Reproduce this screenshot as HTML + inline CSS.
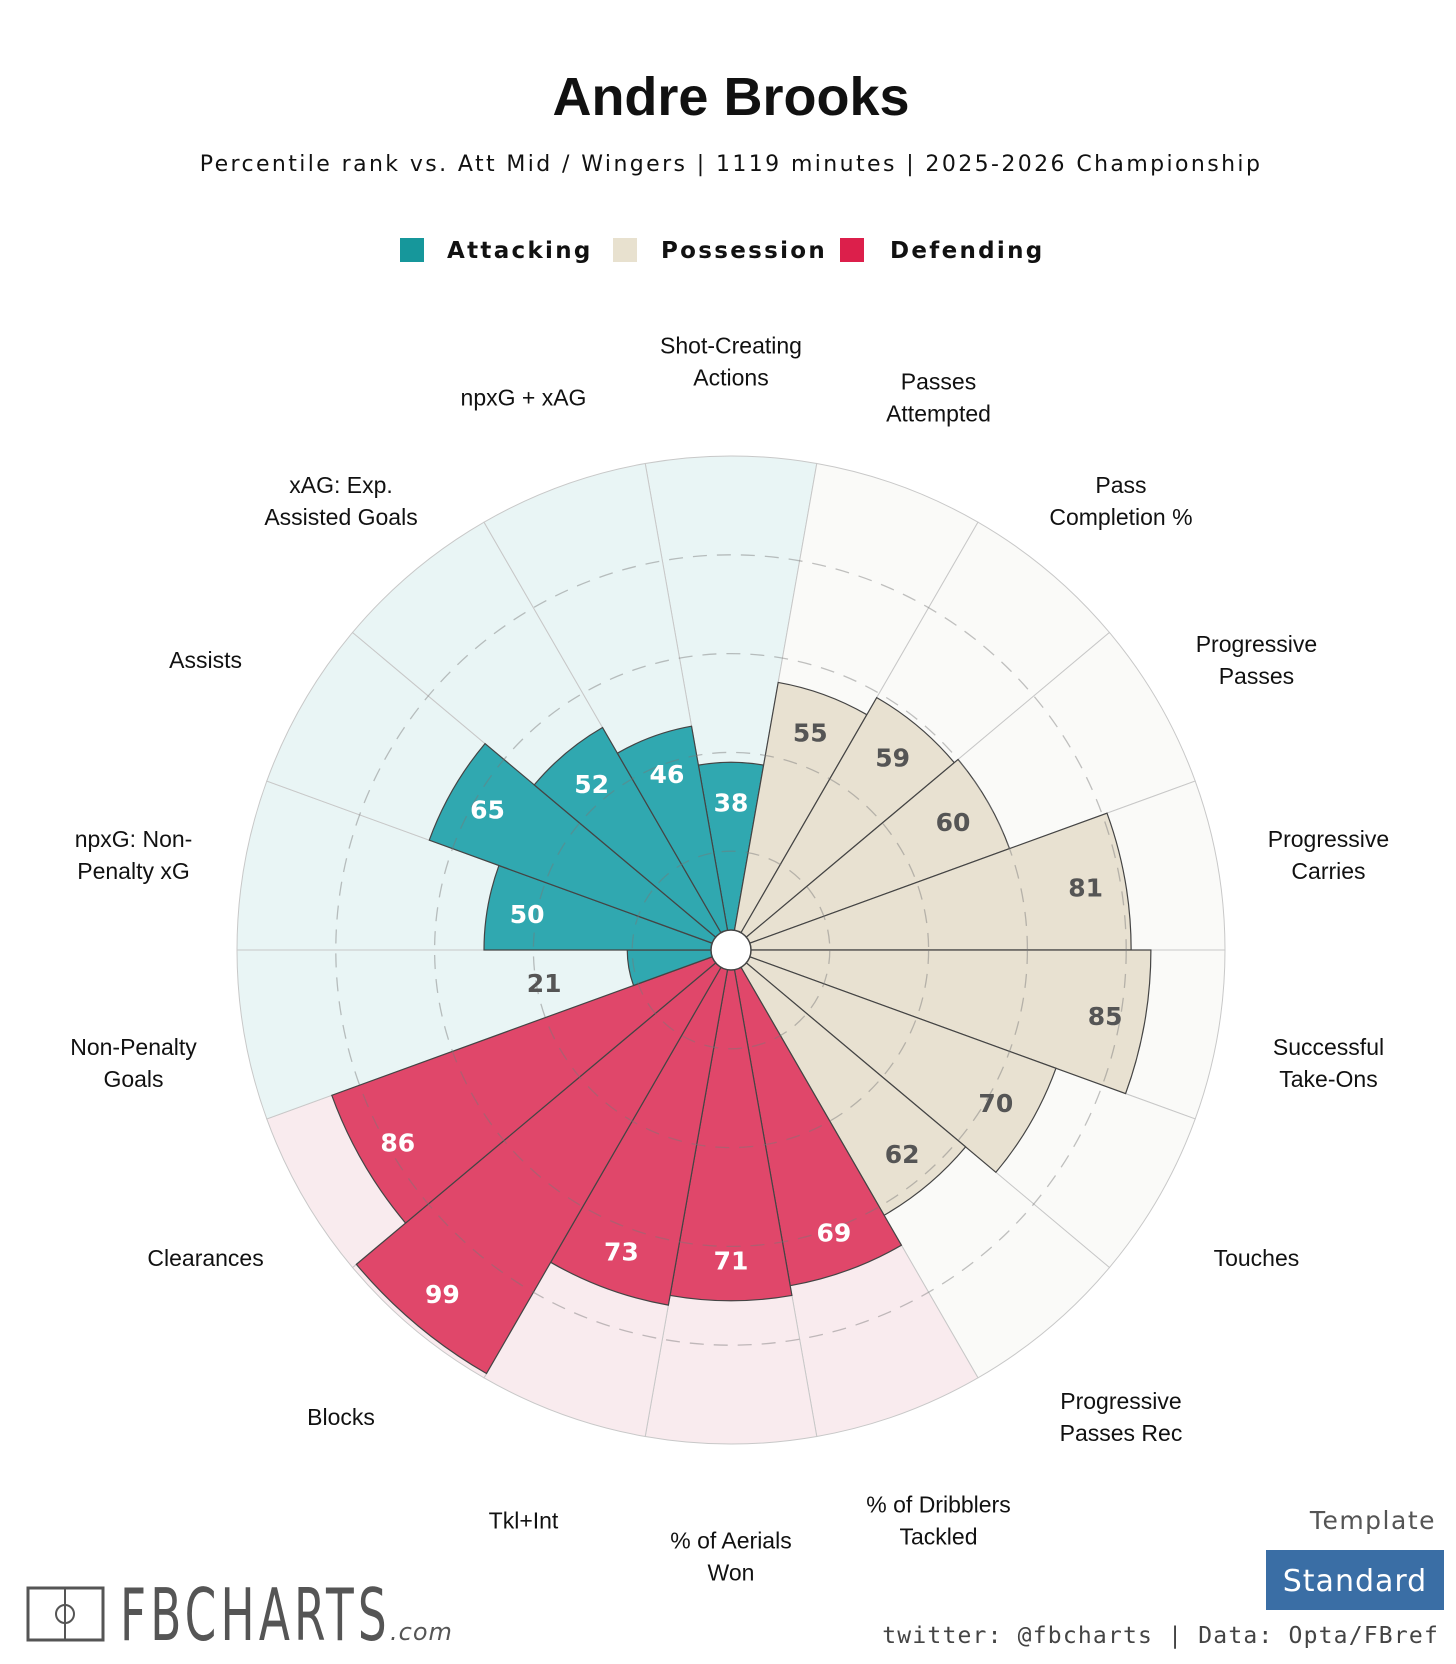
<!DOCTYPE html>
<html><head><meta charset="utf-8">
<style>
html,body{margin:0;padding:0;background:#fff;}
body{width:1456px;height:1664px;overflow:hidden;position:relative;font-family:"Liberation Sans",sans-serif;}
</style></head>
<body>
<svg id="chart" width="1456" height="1664" xmlns="http://www.w3.org/2000/svg" style="position:absolute;left:0;top:0">
  <text x="731" y="115" text-anchor="middle" font-family="Liberation Sans, sans-serif" font-weight="bold" font-size="54" fill="#111">Andre Brooks</text>
  <text x="731" y="171" text-anchor="middle" font-family="DejaVu Sans, sans-serif" font-size="22" letter-spacing="2.4" fill="#111">Percentile rank vs. Att Mid / Wingers | 1119 minutes | 2025-2026 Championship</text>
  <g font-family="DejaVu Sans, sans-serif" font-weight="bold" font-size="23" letter-spacing="2.3" fill="#111">
    <rect x="400" y="238" width="24" height="24" fill="#16979b"/>
    <text x="447" y="258">Attacking</text>
    <rect x="613" y="238" width="24" height="24" fill="#e8e1cf"/>
    <text x="661" y="258">Possession</text>
    <rect x="840" y="238" width="24" height="24" fill="#dc1f4b"/>
    <text x="890" y="258">Defending</text>
  </g>
  <g id="polar"></g>
  <g>
    <rect x="28" y="1588" width="75" height="52" fill="none" stroke="#555" stroke-width="3"/>
    <line x1="65" y1="1588" x2="65" y2="1640" stroke="#555" stroke-width="2"/>
    <circle cx="65" cy="1614" r="9" fill="none" stroke="#555" stroke-width="2"/>
    <text x="120" y="1640" font-family="DejaVu Sans Condensed, DejaVu Sans, sans-serif" font-size="72" fill="#555" letter-spacing="6" transform="translate(120,1640) scale(0.7,1) translate(-120,-1640)">FBCHARTS</text>
    <text x="390" y="1640" font-family="DejaVu Sans, sans-serif" font-style="italic" font-size="24" fill="#555" letter-spacing="1">.com</text>
  </g>
  <text x="1436" y="1529" text-anchor="end" font-family="DejaVu Sans, sans-serif" font-size="25" letter-spacing="1.5" fill="#555">Template</text>
  <rect x="1266" y="1550" width="178" height="60" fill="#3a6ea5"/>
  <text x="1355" y="1591" text-anchor="middle" font-family="DejaVu Sans, sans-serif" font-size="30" letter-spacing="1" fill="#fff">Standard</text>
  <text x="1439" y="1643" text-anchor="end" font-family="DejaVu Sans Mono, monospace" font-size="23" letter-spacing="1.2" fill="#444">twitter: @fbcharts | Data: Opta/FBref</text>
</svg>
<script>
const metrics = ["Shot-Creating\nActions","Passes\nAttempted","Pass\nCompletion %","Progressive\nPasses","Progressive\nCarries","Successful\nTake-Ons","Touches","Progressive\nPasses Rec","% of Dribblers\nTackled","% of Aerials\nWon","Tkl+Int","Blocks","Clearances","Non-Penalty\nGoals","npxG: Non-\nPenalty xG","Assists","xAG: Exp.\nAssisted Goals","npxG + xAG"];
const values = [38,55,59,60,81,85,70,62,69,71,73,99,86,21,50,65,52,46];
const groups = ["att","pos","pos","pos","pos","pos","pos","pos","def","def","def","def","def","att","att","att","att","att"];
const gridTicks = [20,40,60,80];

const CX=731, CY=950, R=494, HOLE=20;
const bar = {att:"#30a8b0", pos:"#e8e1d1", def:"#e0476a"};
const bg = {att:"#e9f5f5", pos:"#fafaf8", def:"#f9ebee"};
const txt = {att:"#fff", pos:"#555", def:"#fff"};
const NS="http://www.w3.org/2000/svg";
const g=document.getElementById('polar');
const n=metrics.length, step=360/n;
function rScale(v){return R*v/100;}
function pt(r,deg){const a=(deg-90)*Math.PI/180;return [CX+r*Math.cos(a),CY+r*Math.sin(a)];}
function wedge(r,a0,a1){const p0=pt(r,a0),p1=pt(r,a1);return `M${CX},${CY} L${p0[0]},${p0[1]} A${r},${r} 0 0 1 ${p1[0]},${p1[1]} Z`;}
function mk(tag,attrs){const e=document.createElementNS(NS,tag);for(const k in attrs)e.setAttribute(k,attrs[k]);return e;}

for(let i=0;i<n;i++){
  const a0=i*step-step/2,a1=i*step+step/2;
  const e=mk('path',{d:wedge(R,a0,a1),fill:bg[groups[i]],stroke:"#c8c8c8","stroke-width":"1"});
  
  
  g.appendChild(e);
}
for(let i=0;i<n;i++){
  const a0=i*step-step/2,a1=i*step+step/2;
  const e=mk('path',{d:wedge(rScale(values[i]),a0,a1),fill:bar[groups[i]],stroke:"#444","stroke-width":"1.2"});
  
  
  g.appendChild(e);
}
gridTicks.forEach(t=>{
  const c=mk('circle',{cx:CX,cy:CY,r:rScale(t),fill:"none",stroke:"#777","stroke-opacity":"0.45","stroke-width":"1.3","stroke-dasharray":"14 10"});
  
  
  g.appendChild(c);
});
const hole=mk('circle',{cx:CX,cy:CY,r:HOLE,fill:"#fff",stroke:"#444","stroke-width":"1.5"});


g.appendChild(hole);
for(let i=0;i<n;i++){
  const v=values[i], ang=i*step;
  const small=v<30;
  const rr=small?rScale(v)+86:rScale(v)-40;
  const p=pt(rr,ang);
  const t=mk('text',{x:p[0],y:p[1]+9,"text-anchor":"middle","font-family":"DejaVu Sans, sans-serif","font-weight":"bold","font-size":"25",fill:small?"#555":txt[groups[i]]});
  t.textContent=v;
  
  
  g.appendChild(t);
  const lines=metrics[i].split('\n');
  const lp0=pt(R*1.21,ang);
  const lp=[CX+(lp0[0]-CX)*1.015, lp0[1]];
  const lt=mk('text',{"text-anchor":"middle","font-family":"Liberation Sans, sans-serif","font-size":"23",fill:"#111"});
  
  
  const lh=32, y0=lp[1]-(lines.length-1)*lh/2+17;
  lines.forEach((s,k)=>{const ts=mk('tspan',{x:lp[0],y:y0+k*lh});ts.textContent=s;lt.appendChild(ts);});
  g.appendChild(lt);
}
</script>
</body></html>
